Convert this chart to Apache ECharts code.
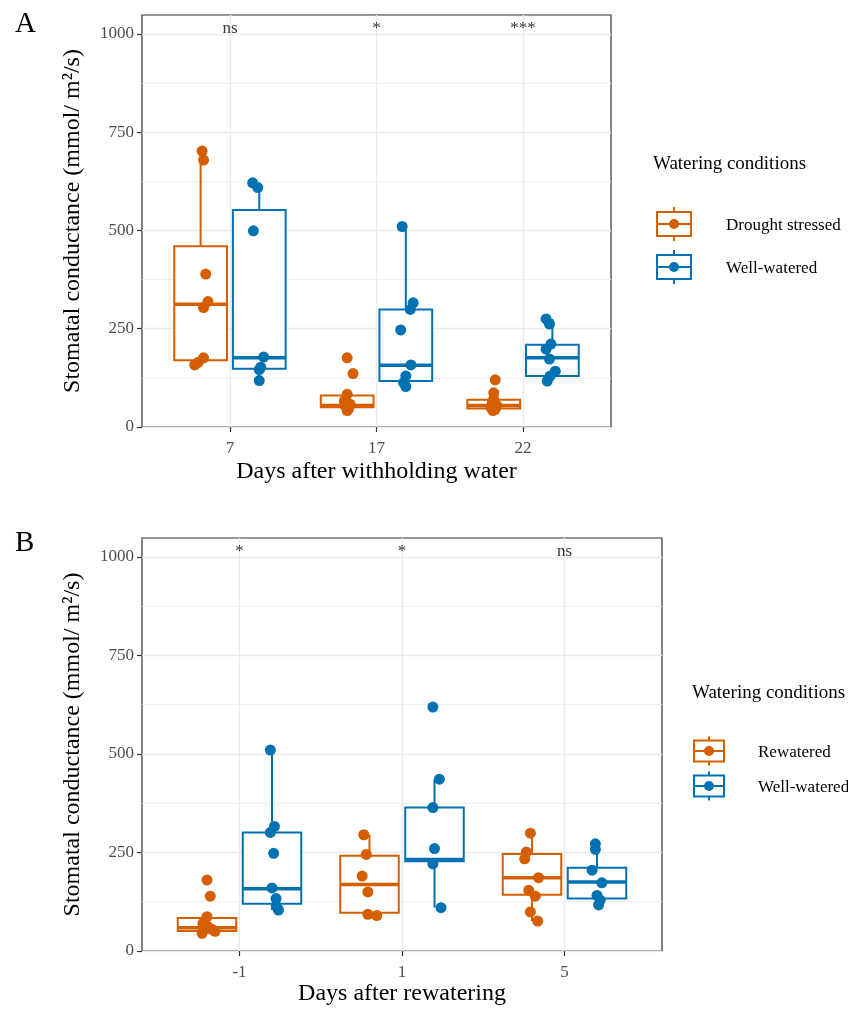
<!DOCTYPE html>
<html>
<head>
<meta charset="utf-8">
<script src="https://cdn.jsdelivr.net/npm/echarts/dist/echarts.min.js"></script>
<style>
  html, body { margin: 0; padding: 0; background: #fff; }
  #chart { width: 848px; height: 1009px; }
</style>
</head>
<body>
<div id="chart"></div>
<script>
// categories
const daysA = ['7', '17', '22'];
const daysB = ['-1', '1', '5'];
const groupsA = ['Drought stressed', 'Well-watered'];
const groupsB = ['Rewatered', 'Well-watered'];
const sigA = ['ns', '*', '***'];
const sigB = ['*', '*', 'ns'];
const yTicks = [0, 250, 500, 750, 1000];
const yMinor = [125, 375, 625, 875];

// box stats per day: [lower whisker, q1, median, q3, upper whisker]
const droughtBoxA = [[158, 170, 312, 460, 702], [42, 50, 55, 80, 83], [42, 47, 55, 69, 87]];
const wellBoxA = [[118, 148, 176, 552, 621], [103, 117, 157, 299, 510], [117, 130, 176, 209, 275]];
const rewateredBoxB = [[45, 51, 59, 84, 87], [90, 97, 169, 242, 295], [76, 143, 186, 246, 299]];
const wellBoxB = [[104, 120, 158, 301, 510], [110, 228, 232, 364, 436], [117, 133, 175, 211, 272]];

// single readings per day
const droughtPtsA = [[702, 679, 389, 319, 304, 176, 165, 158], [176, 136, 83, 66, 58, 52, 47, 42], [120, 87, 70, 62, 55, 50, 45, 42]];
const wellPtsA = [[621, 609, 499, 178, 152, 146, 118], [510, 316, 299, 247, 158, 130, 113, 103], [275, 262, 211, 198, 173, 142, 130, 117]];
const rewateredPtsB = [[180, 139, 87, 70, 62, 55, 50, 45], [295, 245, 190, 150, 93, 90], [299, 251, 234, 186, 154, 139, 99, 76]];
const wellPtsB = [[510, 316, 301, 248, 160, 133, 112, 104], [619, 436, 364, 260, 221, 110], [272, 258, 205, 173, 141, 129, 117]];

// horizontal jitter of the readings (x units)
const droughtJitA = [[0.01, 0.02, 0.035, 0.05, 0.02, 0.02, -0.015, -0.04], [0, 0.04, 0, -0.02, 0.02, -0.01, 0.01, 0], [0.01, 0, 0, -0.01, 0.02, -0.02, 0.01, -0.005]];
const wellJitA = [[-0.045, -0.01, -0.04, 0.03, 0.01, 0, 0], [-0.025, 0.05, 0.03, -0.035, 0.035, 0, -0.015, 0], [-0.043, -0.02, -0.01, -0.043, -0.02, 0.02, -0.015, -0.035]];
const rewateredJitB = [[0, 0.02, 0, -0.025, 0.005, 0.03, 0.05, -0.03], [-0.035, -0.02, -0.045, -0.01, -0.01, 0.045], [-0.01, -0.035, -0.045, 0.04, -0.02, 0.02, -0.01, 0.035]];
const wellJitB = [[-0.01, 0.015, -0.01, 0.01, 0, 0.025, 0.03, 0.04], [-0.01, 0.03, -0.01, 0, -0.01, 0.04], [-0.01, -0.01, -0.03, 0.03, 0, 0.02, 0.01]];

const ORANGE = '#D55E00';
const BLUE = '#0072B2';
const SERIF = '"Liberation Serif", "Times New Roman", serif';
const DODGE = 0.2;
const BOX_W = 0.36;
const Y_MAX = 1048;

function renderBox(params, api) {
  const x = api.value(0);
  const half = api.size([BOX_W, 0])[0] / 2;
  const lo = api.coord([x, api.value(1)]);
  const q1 = api.coord([x, api.value(2)]);
  const med = api.coord([x, api.value(3)]);
  const q3 = api.coord([x, api.value(4)]);
  const hi = api.coord([x, api.value(5)]);
  const color = api.visual('color');
  return {
    type: 'group',
    children: [
      { type: 'line', shape: { x1: q3[0], y1: q3[1], x2: hi[0], y2: hi[1] }, style: { stroke: color, lineWidth: 2 } },
      { type: 'line', shape: { x1: q1[0], y1: q1[1], x2: lo[0], y2: lo[1] }, style: { stroke: color, lineWidth: 2 } },
      { type: 'rect', shape: { x: q3[0] - half, y: q3[1], width: half * 2, height: q1[1] - q3[1] },
        style: { fill: '#fff', stroke: color, lineWidth: 2 } },
      { type: 'line', shape: { x1: med[0] - half, y1: med[1], x2: med[0] + half, y2: med[1] },
        style: { stroke: color, lineWidth: 3.5 } }
    ]
  };
}

function boxSeries(stats, shift, color, gi) {
  return {
    type: 'custom',
    xAxisIndex: gi, yAxisIndex: gi * 2,
    renderItem: renderBox,
    itemStyle: { color: color },
    encode: { x: 0, y: [1, 2, 3, 4, 5] },
    data: stats.map((s, i) => [i + 1 + shift].concat(s)),
    z: 2
  };
}

function pointSeries(pts, jit, shift, color, gi) {
  const data = [];
  pts.forEach((vals, i) => {
    vals.forEach((v, k) => data.push([i + 1 + shift + jit[i][k], v]));
  });
  return {
    type: 'scatter',
    xAxisIndex: gi, yAxisIndex: gi * 2,
    symbolSize: 11,
    itemStyle: { color: color, opacity: 1 },
    data: data,
    z: 3
  };
}

function sigSeries(labels, gi) {
  return {
    type: 'scatter',
    xAxisIndex: gi, yAxisIndex: gi * 2,
    symbolSize: 0,
    silent: true,
    data: labels.map((t, i) => [i + 1, 1000]),
    label: {
      show: true, position: 'inside', offset: [0, -5],
      formatter: p => labels[p.dataIndex],
      fontFamily: SERIF, fontSize: 17, color: '#000'
    },
    z: 4
  };
}

function xAxisFor(gi, days, title, gap) {
  return {
    type: 'value', gridIndex: gi, min: 0.4, max: 3.6,
    axisLine: { show: false },
    axisTick: { show: true, customValues: [1, 2, 3], length: 5, lineStyle: { color: '#333', width: 1.2 } },
    axisLabel: {
      customValues: [1, 2, 3], margin: 13,
      formatter: v => days[Math.round(v) - 1],
      fontFamily: SERIF, fontSize: 17, color: '#4d4d4d'
    },
    splitLine: { show: true, lineStyle: { color: '#ebebeb', width: 1.4 } },
    name: title, nameLocation: 'middle', nameGap: gap,
    nameTextStyle: { fontFamily: SERIF, fontSize: 24, color: '#000' }
  };
}

function yAxesFor(gi) {
  return [{
    type: 'value', gridIndex: gi, min: 0, max: Y_MAX,
    axisLine: { show: false },
    axisTick: { show: true, customValues: yTicks, length: 5, lineStyle: { color: '#333', width: 1.2 } },
    axisLabel: {
      customValues: yTicks, margin: 8, formatter: v => String(v),
      fontFamily: SERIF, fontSize: 17, color: '#4d4d4d'
    },
    splitLine: { show: true, lineStyle: { color: '#ebebeb', width: 1.4 } },
    name: 'Stomatal conductance (mmol/ m²/s)', nameLocation: 'middle', nameGap: 57,
    nameTextStyle: { fontFamily: SERIF, fontSize: 24, color: '#000' }
  }, {
    type: 'value', gridIndex: gi, min: 0, max: Y_MAX, position: 'left',
    axisLine: { show: false },
    axisTick: { show: false, customValues: yMinor },
    axisLabel: { show: false, customValues: yMinor },
    splitLine: { show: true, lineStyle: { color: '#f0f0f0', width: 1 } }
  }];
}

function legendGraphic(left, titleY, title, labels, colors, keyLeft, rows, keyW, keyH, ext, textLeft) {
  const els = [{
    type: 'text', left: left, top: titleY - 9,
    style: { text: title, font: '19px ' + SERIF, fill: '#000' }
  }];
  labels.forEach((lab, i) => {
    const cy = rows[i];
    const cx = keyLeft + keyW / 2;
    const c = colors[i];
    els.push({
      type: 'group', silent: true,
      children: [
        { type: 'line', shape: { x1: cx, y1: cy - keyH / 2 - ext, x2: cx, y2: cy + keyH / 2 + ext }, style: { stroke: c, lineWidth: 2 } },
        { type: 'rect', shape: { x: keyLeft, y: cy - keyH / 2, width: keyW, height: keyH }, style: { fill: '#fff', stroke: c, lineWidth: 2 } },
        { type: 'line', shape: { x1: keyLeft, y1: cy, x2: keyLeft + keyW, y2: cy }, style: { stroke: c, lineWidth: 2 } },
        { type: 'circle', shape: { cx: cx, cy: cy, r: 5 }, style: { fill: c } }
      ]
    });
    els.push({
      type: 'text', left: textLeft, top: cy - 7,
      style: { text: lab, font: '17px ' + SERIF, fill: '#000' }
    });
  });
  return els;
}

const chart = echarts.init(document.getElementById('chart'), null, { renderer: 'canvas' });

chart.setOption({
  backgroundColor: '#fff',
  animation: false,
  title: [
    { text: 'A', left: 10, top: 5, textStyle: { fontFamily: SERIF, fontSize: 29, fontWeight: 'normal', color: '#000' } },
    { text: 'B', left: 10, top: 524, textStyle: { fontFamily: SERIF, fontSize: 29, fontWeight: 'normal', color: '#000' } }
  ],
  grid: [
    { left: 142, top: 15, width: 469, height: 412, show: true, backgroundColor: '#fff', borderColor: '#333', borderWidth: 1.2, outerBoundsMode: 'none' },
    { left: 142, top: 538, width: 520, height: 413, show: true, backgroundColor: '#fff', borderColor: '#333', borderWidth: 1.2, outerBoundsMode: 'none' }
  ],
  xAxis: [
    xAxisFor(0, daysA, 'Days after withholding water', 33),
    xAxisFor(1, daysB, 'Days after rewatering', 30)
  ],
  yAxis: yAxesFor(0).concat(yAxesFor(1)),
  series: [
    boxSeries(droughtBoxA, -DODGE, ORANGE, 0),
    boxSeries(wellBoxA, DODGE, BLUE, 0),
    pointSeries(droughtPtsA, droughtJitA, -DODGE, ORANGE, 0),
    pointSeries(wellPtsA, wellJitA, DODGE, BLUE, 0),
    sigSeries(sigA, 0),
    boxSeries(rewateredBoxB, -DODGE, ORANGE, 1),
    boxSeries(wellBoxB, DODGE, BLUE, 1),
    pointSeries(rewateredPtsB, rewateredJitB, -DODGE, ORANGE, 1),
    pointSeries(wellPtsB, wellJitB, DODGE, BLUE, 1),
    sigSeries(sigB, 1)
  ],
  graphic: legendGraphic(653, 164, 'Watering conditions', groupsA, [ORANGE, BLUE], 657, [224, 267], 34, 24, 5, 726)
    .concat(legendGraphic(692, 693, 'Watering conditions', groupsB, [ORANGE, BLUE], 694, [751, 786], 30, 21, 4, 758))
});

window.addEventListener('resize', () => chart.resize());
</script>
</body>
</html>
